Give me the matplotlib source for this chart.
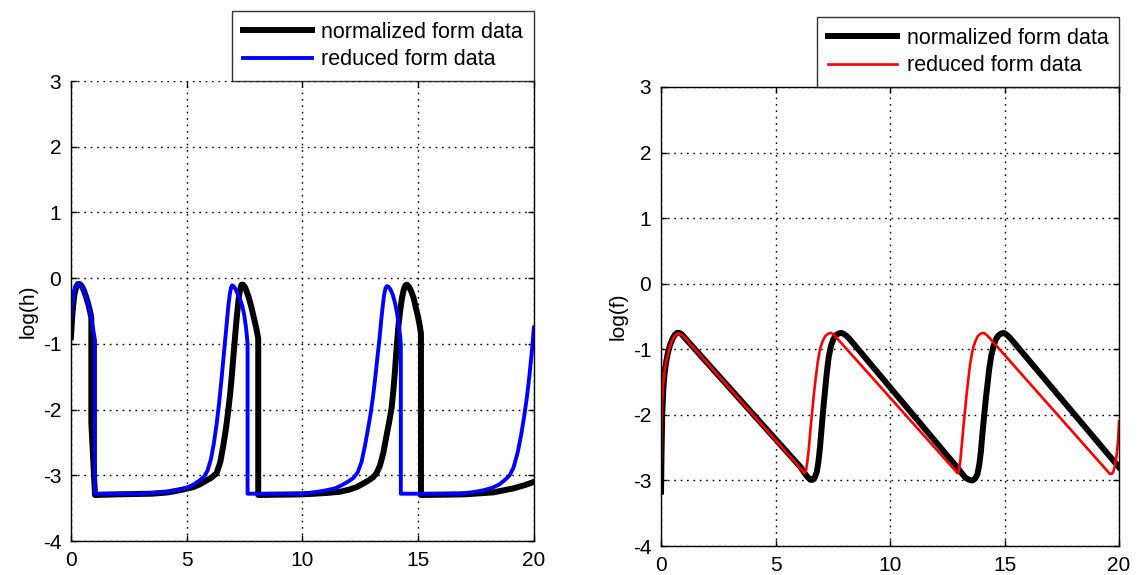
import matplotlib

matplotlib.use("Agg")
import matplotlib.pyplot as plt

# log(h): normalized form (time, value)
h_norm_t = [
    0.0, 0.05, 0.1, 0.15, 0.22, 0.3, 0.38, 0.46, 0.55, 0.65, 0.75, 0.82, 0.88, 0.88, 1.04,
    2.0, 3.5, 4.2, 4.8, 5.28, 5.55, 5.8, 6.05, 6.29, 6.45, 6.58, 6.7, 6.8, 6.88, 6.95,
    7.01, 7.07, 7.13, 7.19, 7.25, 7.31, 7.37, 7.44, 7.52, 7.6, 7.7, 7.8, 7.9, 8.0,
    8.09, 8.09,
    10.0, 11.0, 11.62, 12.0, 12.34, 12.6, 12.85, 13.05, 13.2, 13.35, 13.5, 13.62,
    13.74, 13.85, 13.93, 14.0, 14.07, 14.14, 14.22, 14.3, 14.38, 14.45, 14.52, 14.6,
    14.7, 14.8, 14.9, 15.0, 15.08, 15.12, 15.12,
    17.0, 18.25, 19.1, 19.6, 20.0,
]
h_norm = [
    -0.9, -0.6, -0.4, -0.25, -0.14, -0.09, -0.09, -0.12, -0.18, -0.28, -0.4, -0.5, -0.6, -2.2, -3.3,
    -3.29, -3.28, -3.26, -3.22, -3.18, -3.14, -3.09, -3.04, -2.97, -2.8, -2.55, -2.28, -2.0, -1.75, -1.48,
    -1.22, -0.97, -0.72, -0.5, -0.3, -0.17, -0.1, -0.1, -0.14, -0.21, -0.32, -0.45, -0.6, -0.75,
    -0.92, -3.3,
    -3.29, -3.27, -3.25, -3.22, -3.18, -3.13, -3.08, -3.03, -2.97, -2.85, -2.65, -2.42,
    -2.2, -1.98, -1.7, -1.4, -1.05, -0.75, -0.5, -0.3, -0.17, -0.11, -0.1, -0.13,
    -0.2, -0.3, -0.45, -0.6, -0.75, -0.85, -3.3,
    -3.29, -3.26, -3.2, -3.15, -3.1,
]

# log(h): reduced form
h_red_t = [
    0.0, 0.05, 0.1, 0.17, 0.25, 0.33, 0.42, 0.52, 0.62, 0.72, 0.82, 0.9, 0.97, 1.04, 1.04,
    3.0, 3.5, 4.2, 4.7, 5.0, 5.3, 5.55, 5.75, 5.9, 6.05, 6.18, 6.3, 6.4, 6.5, 6.58,
    6.66, 6.74, 6.8, 6.86, 6.91, 6.96, 7.02, 7.1, 7.2, 7.3, 7.4, 7.48, 7.55, 7.6,
    7.63, 7.63,
    10.0, 10.5, 11.0, 11.4, 11.7, 12.0, 12.2, 12.38, 12.55, 12.7, 12.83, 12.95, 13.05,
    13.15, 13.24, 13.32, 13.4, 13.47, 13.53, 13.59, 13.65, 13.72, 13.8, 13.9, 14.0,
    14.08, 14.16, 14.22, 14.25, 14.25,
    16.8, 17.3, 17.8, 18.2, 18.5, 18.75, 18.95, 19.12, 19.3, 19.45, 19.58, 19.7, 19.8,
    19.9, 20.0,
]
h_red = [
    -0.6, -0.4, -0.28, -0.16, -0.1, -0.09, -0.11, -0.17, -0.25, -0.36, -0.5, -0.65, -0.8, -0.95, -3.28,
    -3.28, -3.27, -3.25, -3.22, -3.19, -3.14, -3.08, -3.02, -2.93, -2.75, -2.5, -2.2, -1.9, -1.55, -1.25,
    -0.95, -0.65, -0.42, -0.25, -0.15, -0.11, -0.12, -0.16, -0.24, -0.32, -0.42, -0.55, -0.72, -0.88,
    -1.0, -3.28,
    -3.28, -3.26, -3.23, -3.2, -3.15, -3.09, -3.04, -2.96, -2.8, -2.55, -2.3, -2.05, -1.8,
    -1.5, -1.2, -0.95, -0.65, -0.42, -0.25, -0.15, -0.12, -0.13, -0.17, -0.25, -0.38,
    -0.52, -0.7, -0.88, -1.0, -3.28,
    -3.28, -3.26, -3.23, -3.19, -3.14, -3.07, -3.0, -2.88, -2.65, -2.38, -2.1, -1.8, -1.5,
    -1.15, -0.75,
]

# log(f): normalized form
f_norm_t = [
    0.0, 0.02, 0.05, 0.1, 0.15, 0.22, 0.3, 0.4, 0.5, 0.6, 0.7, 0.8, 0.9, 1.0, 1.1,
    6.1, 6.25, 6.4, 6.52, 6.62, 6.72, 6.8, 6.87, 6.94, 7.0, 7.05, 7.1, 7.17, 7.24,
    7.32, 7.42, 7.52, 7.62, 7.75, 7.88, 8.0, 8.12, 8.25,
    13.0, 13.15, 13.3, 13.45, 13.6, 13.72, 13.82, 13.9, 13.97, 14.03, 14.1, 14.17,
    14.25, 14.33, 14.42, 14.52, 14.62, 14.73, 14.85, 14.97, 15.1, 15.25,
    20.0,
]
f_norm = [
    -3.17, -2.6, -2.0, -1.6, -1.38, -1.2, -1.05, -0.93, -0.84, -0.78, -0.75, -0.75, -0.77, -0.81, -0.85,
    -2.8, -2.88, -2.95, -2.99, -2.99, -2.95, -2.87, -2.72, -2.5, -2.25, -2.05, -1.85, -1.6, -1.35,
    -1.12, -0.95, -0.85, -0.79, -0.76, -0.75, -0.77, -0.8, -0.85,
    -2.83, -2.9, -2.96, -2.99, -3.0, -2.97, -2.9, -2.75, -2.55, -2.3, -2.05, -1.8,
    -1.55, -1.3, -1.1, -0.95, -0.85, -0.79, -0.76, -0.75, -0.78, -0.83,
    -2.8,
]

# log(f): reduced form
f_red_t = [
    0.0, 0.02, 0.05, 0.1, 0.17, 0.25, 0.35, 0.47, 0.58, 0.68, 0.78, 0.9, 1.0, 1.1,
    6.0, 6.15, 6.27, 6.33, 6.4, 6.47, 6.53, 6.6, 6.67, 6.75, 6.84, 6.94, 7.05, 7.17,
    7.3, 7.43, 7.55, 7.68,
    12.85, 12.95, 13.0, 13.07, 13.13, 13.2, 13.27, 13.34, 13.42, 13.5, 13.6, 13.71,
    13.83, 13.96, 14.09, 14.22, 14.35,
    19.5, 19.6, 19.68, 19.75, 19.82, 19.9, 19.96, 20.0,
]
f_red = [
    -2.65, -2.2, -1.8, -1.5, -1.3, -1.15, -1.0, -0.88, -0.8, -0.77, -0.76, -0.78, -0.81, -0.85,
    -2.78, -2.85, -2.89, -2.85, -2.68, -2.45, -2.2, -1.95, -1.7, -1.45, -1.2, -1.0, -0.88, -0.8,
    -0.76, -0.75, -0.78, -0.83,
    -2.85, -2.89, -2.86, -2.7, -2.47, -2.2, -1.95, -1.7, -1.45, -1.22, -1.02, -0.89,
    -0.8, -0.76, -0.75, -0.78, -0.83,
    -2.86, -2.9, -2.9, -2.87, -2.78, -2.6, -2.38, -2.1,
]

x_ticks = [0, 5, 10, 15, 20]
y_ticks = [-4, -3, -2, -1, 0, 1, 2, 3]
legend_labels = ["normalized form data", "reduced form data"]

plt.rcParams["font.family"] = ["Liberation Sans", "DejaVu Sans"]
plt.rcParams["font.size"] = 15
plt.rcParams["axes.unicode_minus"] = False


def style_axes(ax, ylabel):
    ax.set_xlim(0, 20)
    ax.set_ylim(-4, 3)
    ax.set_xticks(x_ticks)
    ax.set_yticks(y_ticks)
    ax.tick_params(
        direction="in", length=4, width=1, top=True, right=True, pad=7, labelsize=15
    )
    ax.grid(True, color="black", linestyle=(0, (1.2, 3.4)), linewidth=1.0)
    ax.set_axisbelow(True)
    for sp in ax.spines.values():
        sp.set_linewidth(1.0)
    ax.set_ylabel(ylabel, fontsize=15, labelpad=4)


def draw_panel(ax, t_norm, y_norm, t_red, y_red, red_color, red_lw, ylabel):
    ax.plot(t_norm, y_norm, color="black", lw=4.3, solid_joinstyle="round",
            label=legend_labels[0])
    ax.plot(t_red, y_red, color=red_color, lw=red_lw, solid_joinstyle="round",
            label=legend_labels[1])
    style_axes(ax, ylabel)
    leg = ax.legend(
        loc="lower right",
        bbox_to_anchor=(1.0, 1.0),
        frameon=True,
        fancybox=False,
        edgecolor="black",
        handlelength=3.2,
        handletextpad=0.45,
        borderpad=0.5,
        labelspacing=0.3,
        borderaxespad=0.0,
        fontsize=15.5,
    )
    leg.get_frame().set_linewidth(1.0)
    return leg


def main():
    fig = plt.figure(figsize=(11.37, 5.75), dpi=100)
    ax_h = fig.add_axes([0.0624, 0.0591, 0.4072, 0.80])
    ax_f = fig.add_axes([0.5814, 0.0504, 0.4028, 0.7983])

    draw_panel(ax_h, h_norm_t, h_norm, h_red_t, h_red, "#0000ff", 2.8, "log(h)")
    ax_h.spines["top"].set_visible(False)

    draw_panel(ax_f, f_norm_t, f_norm, f_red_t, f_red, "#ff0000", 1.9, "log(f)")

    fig.savefig("out.png", dpi=100, facecolor="white")


if __name__ == "__main__":
    main()
